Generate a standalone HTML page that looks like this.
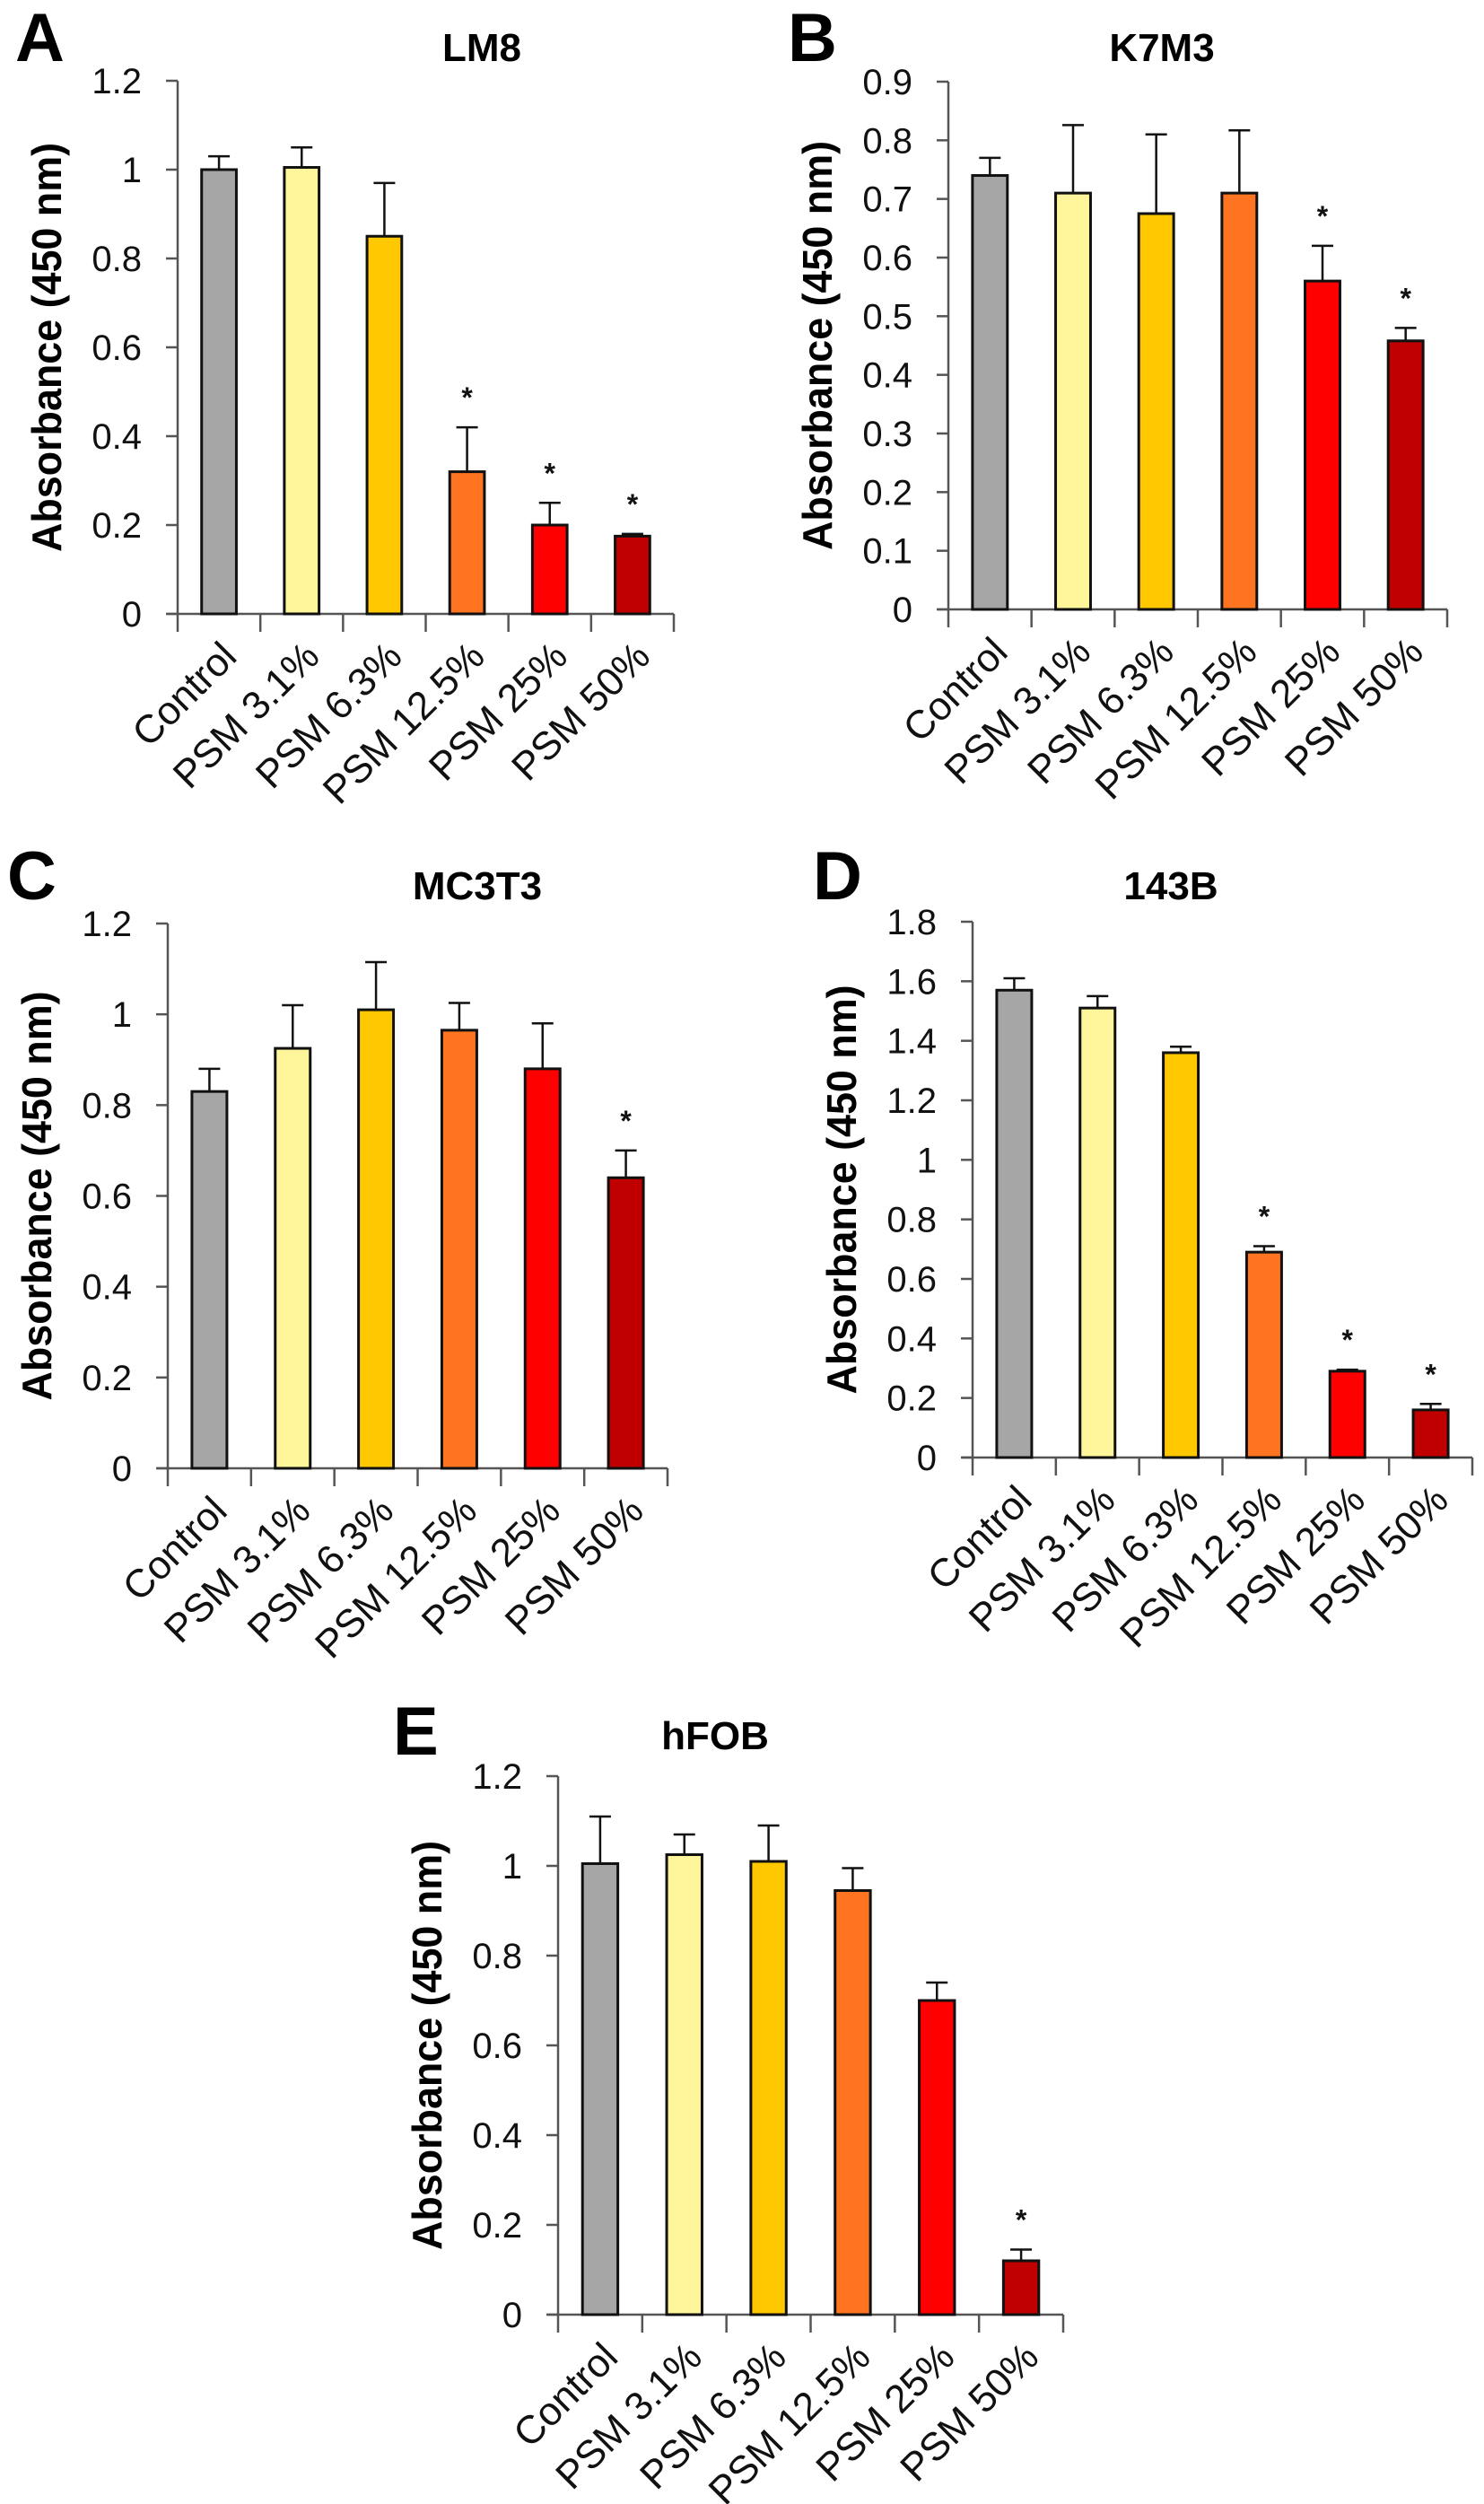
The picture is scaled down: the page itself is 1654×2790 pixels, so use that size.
<!DOCTYPE html>
<html><head><meta charset="utf-8"><style>
html,body{margin:0;padding:0;background:#fff;}
svg{display:block;font-family:"Liberation Sans",Arial,sans-serif;}
</style></head><body>
<svg id="fig" width="1654" height="2790" viewBox="0 0 1654 2790" xmlns="http://www.w3.org/2000/svg"></svg>
<script>
const categories = ["Control","PSM 3.1%","PSM 6.3%","PSM 12.5%","PSM 25%","PSM 50%"];
const barColors = ["#a6a6a6","#fff59a","#ffc800","#ff7420","#ff0000","#c00000"];
const valuesA = [1.0,1.005,0.85,0.32,0.20,0.175];
const errTopA = [1.03,1.05,0.97,0.42,0.25,0.18];
const starsA = [3,4,5];
const valuesB = [0.74,0.71,0.675,0.71,0.56,0.458];
const errTopB = [0.77,0.826,0.81,0.817,0.62,0.48];
const starsB = [4,5];
const valuesC = [0.83,0.925,1.01,0.965,0.88,0.64];
const errTopC = [0.88,1.02,1.115,1.025,0.98,0.70];
const starsC = [5];
const valuesD = [1.57,1.51,1.36,0.69,0.29,0.16];
const errTopD = [1.61,1.55,1.38,0.71,0.295,0.18];
const starsD = [3,4,5];
const valuesE = [1.005,1.025,1.01,0.945,0.70,0.12];
const errTopE = [1.11,1.07,1.09,0.995,0.74,0.145];
const starsE = [5];
const ticksA = ["0","0.2","0.4","0.6","0.8","1","1.2"];
const ticksB = ["0","0.1","0.2","0.3","0.4","0.5","0.6","0.7","0.8","0.9"];
const ticksC = ["0","0.2","0.4","0.6","0.8","1","1.2"];
const ticksD = ["0","0.2","0.4","0.6","0.8","1","1.2","1.4","1.6","1.8"];
const ticksE = ["0","0.2","0.4","0.6","0.8","1","1.2"];

const NS="http://www.w3.org/2000/svg";
const svg=document.getElementById('fig');
function mk(tag,attrs,parent,text){const e=document.createElementNS(NS,tag);for(const k in attrs)e.setAttribute(k,attrs[k]);if(text!==undefined)e.textContent=text;(parent||svg).appendChild(e);return e;}

const panels=[
 {key:"a",letter:"A",title:"LM8",vals:valuesA,err:errTopA,stars:starsA,ticks:ticksA,ax:198,y0:684,yTop:90,xr:751,lx:17,ly:68,tx:537,ty:68},
 {key:"b",letter:"B",title:"K7M3",vals:valuesB,err:errTopB,stars:starsB,ticks:ticksB,ax:1057,y0:679,yTop:91,xr:1613,lx:878,ly:68,tx:1295,ty:68},
 {key:"c",letter:"C",title:"MC3T3",vals:valuesC,err:errTopC,stars:starsC,ticks:ticksC,ax:187,y0:1636,yTop:1029,xr:744,lx:8,ly:1002,tx:532,ty:1002},
 {key:"d",letter:"D",title:"143B",vals:valuesD,err:errTopD,stars:starsD,ticks:ticksD,ax:1084,y0:1624,yTop:1027,xr:1641,lx:906,ly:1002,tx:1305,ty:1002},
 {key:"e",letter:"E",title:"hFOB",vals:valuesE,err:errTopE,stars:starsE,ticks:ticksE,ax:622,y0:2579,yTop:1979,xr:1185,lx:438,ly:1955,tx:797,ty:1949}
];

panels.forEach(p=>{
 const g=mk('g',{});
 
 
 const yMax=parseFloat(p.ticks[p.ticks.length-1]);
 const ys=v=>p.y0-(v/yMax)*(p.y0-p.yTop);
 const n=categories.length, slot=(p.xr-p.ax)/n;
 const xc=i=>p.ax+slot*(i+0.5);
 const bw=slot*0.42;
 const L=mk('text',{x:p.lx,y:p.ly,'font-size':76,'font-weight':'bold',fill:'#000'},g,p.letter);
 
 
 const T=mk('text',{x:p.tx,y:p.ty,'font-size':44,'font-weight':'bold','text-anchor':'middle',fill:'#000'},g,p.title);
 
 
 const ya=mk('line',{x1:p.ax,y1:p.yTop,x2:p.ax,y2:p.y0,stroke:'#555','stroke-width':2.5},g);
 
 
 p.ticks.forEach(t=>{
  const y=ys(parseFloat(t));
  mk('line',{x1:p.ax-13,y1:y,x2:p.ax,y2:y,stroke:'#555','stroke-width':2.5},g);
  const tl=mk('text',{x:p.ax-40,y:y+14,'font-size':40,'text-anchor':'end',fill:'#111'},g,t);
  
  
 });
 const yt=mk('text',{x:0,y:0,'font-size':46,'font-weight':'bold','text-anchor':'middle',fill:'#000',transform:`translate(${p.ax-130},${(p.y0+p.yTop)/2}) rotate(-90)`,textLength:456,lengthAdjust:'spacingAndGlyphs'},g,'Absorbance  (450  nm)');
 
 
 const xa=mk('line',{x1:p.ax-12,y1:p.y0,x2:p.xr,y2:p.y0,stroke:'#555','stroke-width':2.5},g);
 
 
 for(let i=0;i<=n;i++){const x=p.ax+slot*i;mk('line',{x1:x,y1:p.y0,x2:x,y2:p.y0+20,stroke:'#555','stroke-width':2.5},g);}
 categories.forEach((c,i)=>{
  const v=p.vals[i], e=p.err[i], cx=xc(i);
  const el=mk('line',{x1:cx,y1:ys(e),x2:cx,y2:ys(v),stroke:'#111','stroke-width':2.5},g);
  
  
  mk('line',{x1:cx-12,y1:ys(e),x2:cx+12,y2:ys(e),stroke:'#111','stroke-width':2.5},g);
  const b=mk('rect',{x:cx-bw/2,y:ys(v),width:bw,height:p.y0-ys(v),fill:barColors[i],stroke:'#111','stroke-width':3},g);
  
  
  const cl=mk('text',{x:0,y:0,'font-size':44,'text-anchor':'end',fill:'#111',transform:`translate(${cx+22},${p.y0+50}) rotate(-45)`},g,c);
  
  
  if(p.stars.indexOf(i)>=0){
   const s=mk('text',{x:cx,y:ys(e)-22,'font-size':32,'font-weight':'bold','text-anchor':'middle',fill:'#111'},g,'*');
   
   
  }
 });
});
</script>
</body></html>
